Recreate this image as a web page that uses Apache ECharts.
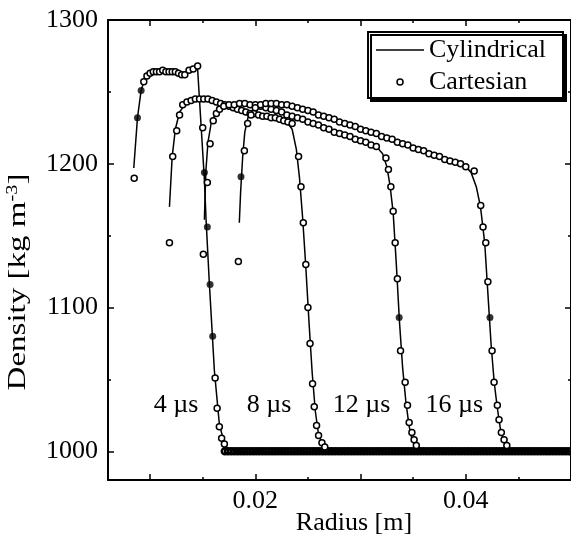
<!DOCTYPE html>
<html>
<head>
<meta charset="utf-8">
<script src="https://cdn.jsdelivr.net/npm/echarts@6/dist/echarts.min.js"></script>
<style>html,body{margin:0;padding:0;background:#fff}#c{width:571px;height:540px}</style>
</head>
<body>
<div id="c"></div>
<script>
// ---------- data ----------
const xMajorTicks = [0.01, 0.02, 0.03, 0.04, 0.05];
const xMinorTicks = [0.015, 0.025, 0.035, 0.045];
const xLabelTicks = [0.02, 0.04];
const yMajorTicks = [1000, 1100, 1200, 1300];
const yMinorTicks = [1050, 1150, 1250];
const yLabelTicks = [1000, 1100, 1200, 1300];

const timeLabels = ['4 µs', '8 µs', '12 µs', '16 µs'];
const timeLabelR = [0.01246, 0.0213, 0.0301, 0.0389];
const timeLabelD = 1032;

// Cylindrical (lines)
const cyl4R = [0.00845,0.0088,0.00915,0.0094,0.00963,0.0101,0.0110,0.0120,0.0128,0.0133,0.0137,0.0141,0.0145,0.0147,0.01516,0.01532,0.01563,0.01611,0.01658,0.01696,0.01734,0.0180,0.0500];
const cyl4D = [1197,1232,1251,1257,1260,1264,1264,1264,1263,1262,1264,1267,1268,1244,1189,1161,1117,1056,1019,1008,1002,1000,1000];
const cyl8R = [0.01184,0.0121,0.0124,0.0128,0.0134,0.0142,0.0152,0.0165,0.0180,0.0195,0.0210,0.0222,0.0230,0.0235,0.0239,0.0242,0.0245,0.0248,0.0251,0.0254,0.0257,0.0260,0.0264,0.0270,0.0500];
const cyl8D = [1170,1205,1224,1236,1242,1245,1245,1242,1238,1235,1233,1231,1229,1224,1210,1190,1162,1128,1090,1055,1028,1012,1004,1000,1000];
const cyl12R = [0.01516,0.0153,0.0155,0.0158,0.0162,0.0168,0.0175,0.0190,0.0200,0.0220,0.0240,0.0260,0.0280,0.0300,0.0315,0.0321,0.0325,0.0328,0.0331,0.0334,0.0337,0.0340,0.0343,0.0346,0.0349,0.0353,0.0360,0.0500];
const cyl12D = [1161,1195,1215,1228,1235,1239,1241,1242,1241,1237,1232,1227,1221,1216,1212,1207,1198,1185,1166,1130,1090,1058,1035,1018,1008,1003,1000,1000];
const cyl16R = [0.01848,0.0186,0.0188,0.0190,0.0193,0.0198,0.0205,0.0215,0.0230,0.0250,0.0270,0.0290,0.0310,0.0330,0.0350,0.0370,0.0390,0.0400,0.0405,0.0410,0.0414,0.0418,0.0421,0.0424,0.0427,0.0430,0.0433,0.0436,0.0440,0.0447,0.0500];
const cyl16D = [1159,1180,1205,1222,1232,1238,1241,1242,1241,1237,1232,1227,1222,1217,1211,1206,1201,1198,1194,1184,1170,1145,1110,1075,1048,1030,1015,1007,1002,1000,1000];

// Cartesian (open circles)
const cart4R = [0.00849,0.0094,0.0097,0.0100,0.0103,0.0106,0.0109,0.0112,0.0115,0.0118,0.0121,0.0124,0.0127,0.0130,0.0133,0.0137,0.0141,0.01452,0.01500,0.01544,0.01618,0.01637,0.01658,0.0168,0.01706];
const cart4D = [1190,1257,1261,1263,1264,1264,1264,1265,1264,1264,1264,1264,1263,1262,1262,1265,1266,1268,1225,1187,1051,1030,1017,1009,1005];
const cart8R = [0.01184,0.01215,0.01253,0.0128,0.0131,0.0135,0.0139,0.0143,0.0147,0.0151,0.0155,0.0159,0.0163,0.0167,0.0171,0.0175,0.0179,0.0183,0.0187,0.0191,0.0195,0.0199,0.0203,0.0207,0.0211,0.0215,0.0219,0.0223,0.0227,0.0231,0.0235,0.02411,0.02434,0.02456,0.0248,0.0250,0.0252,0.02544,0.0256,0.02582,0.02601,0.02633,0.0266];
const cart8D = [1145,1205,1223,1234,1241,1243,1244,1245,1245,1245,1245,1244,1243,1242,1241,1240,1239,1238,1237,1236,1235,1235,1234,1233,1233,1232,1232,1231,1230,1229,1228,1205,1184,1159,1130,1100,1075,1047,1031,1018,1011,1006,1003];
const cart12R = [0.01506,0.0157,0.0160,0.0163,0.0166,0.0170,0.0175,0.0180,0.0185,0.0190,0.0195,0.0200,0.0205,0.0210,0.0215,0.0220,0.0225,0.0230,0.0235,0.0240,0.0245,0.0250,0.0255,0.0260,0.0265,0.0270,0.0275,0.0280,0.0285,0.0290,0.0295,0.0300,0.0305,0.0310,0.0315,0.03241,0.03265,0.03288,0.0331,0.03329,0.0335,0.0338,0.03424,0.03446,0.03462,0.03488,0.03509,0.0353];
const cart12D = [1137,1214,1230,1235,1238,1240,1241,1241,1242,1242,1241,1241,1240,1239,1238,1237,1236,1234,1233,1232,1231,1229,1228,1227,1225,1224,1222,1221,1220,1219,1217,1216,1215,1213,1212,1204,1196,1184,1167,1145,1120,1070,1048,1032,1020,1013,1008,1004];
const cart16R = [0.01839,0.01896,0.01927,0.01959,0.0200,0.0205,0.0210,0.0215,0.0220,0.0225,0.0230,0.0235,0.0240,0.0245,0.0250,0.0255,0.0260,0.0265,0.0270,0.0275,0.0280,0.0285,0.0290,0.0295,0.0300,0.0305,0.0310,0.0315,0.0320,0.0325,0.0330,0.0335,0.0340,0.0345,0.0350,0.0355,0.0360,0.0365,0.0370,0.0375,0.0380,0.0385,0.0390,0.0395,0.0400,0.0408,0.04142,0.04164,0.0419,0.0421,0.0425,0.04269,0.0430,0.04316,0.04338,0.04364,0.0439];
const cart16D = [1132,1209,1228,1234,1239,1241,1242,1242,1242,1241,1241,1240,1239,1238,1237,1236,1234,1233,1232,1231,1229,1228,1227,1226,1224,1223,1222,1221,1219,1218,1217,1215,1214,1213,1211,1210,1209,1207,1206,1205,1203,1202,1201,1200,1198,1195,1171,1156,1145,1118,1070,1048,1032,1022,1013,1008,1004];
// Cartesian samples in the undisturbed region (ambient density)
const flatR = [0.0171,0.0174,0.0177,0.0180,0.0183,0.0186,0.0189,0.0192,0.0195,0.0198,
0.0201,0.0204,0.0207,0.0210,0.0213,0.0216,0.0219,0.0222,0.0225,0.0228,
0.0231,0.0234,0.0237,0.0240,0.0243,0.0246,0.0249,0.0252,0.0255,0.0258,
0.0261,0.0264,0.0267,0.0270,0.0273,0.0276,0.0279,0.0282,0.0285,0.0288,
0.0291,0.0294,0.0297,0.0300,0.0303,0.0306,0.0309,0.0312,0.0315,0.0318,
0.0321,0.0324,0.0327,0.0330,0.0333,0.0336,0.0339,0.0342,0.0345,0.0348,
0.0351,0.0354,0.0357,0.0360,0.0363,0.0366,0.0369,0.0372,0.0375,0.0378,
0.0381,0.0384,0.0387,0.0390,0.0393,0.0396,0.0399,0.0402,0.0405,0.0408,
0.0411,0.0414,0.0417,0.0420,0.0423,0.0426,0.0429,0.0432,0.0435,0.0438,
0.0441,0.0444,0.0447,0.0450,0.0453,0.0456,0.0459,0.0462,0.0465,0.0468,
0.0471,0.0474,0.0477,0.0480,0.0483,0.0486,0.0489,0.0492,0.0495,0.0498];
const flatD = 1000;
// Cartesian points that render as filled dots
const filledR = [0.0088,0.00915,0.01516,0.01544,0.0157,0.01595,0.01864,0.03367,0.0423];
const filledD = [1232,1251,1194,1156,1116,1080,1191,1093,1093];

// ---------- chart ----------
const FONT = "'Liberation Serif','Times New Roman',serif";
const zip = (a, b) => a.map((v, i) => [v, Array.isArray(b) ? b[i] : b]);

const chart = echarts.init(document.getElementById('c'), null, {renderer: 'canvas'});

function lineSeries(r, d) {
  return {name: 'Cylindrical', type: 'line', data: zip(r, d), symbol: 'none', showSymbol: false,
    lineStyle: {color: '#000', width: 1.5}, itemStyle: {color: '#000'}, z: 2, animation: false, silent: true};
}
function circSeries(r, d, fill, size, bw) {
  return {name: 'Cartesian', type: 'scatter', data: zip(r, d), symbol: 'circle', symbolSize: size || 6,
    itemStyle: {color: fill || '#fff', borderColor: '#000', borderWidth: bw || 1.5, opacity: 1}, z: 3, animation: false, silent: true};
}

const axisBase = {type: 'value', min: 0.006, max: 0.05, splitLine: {show: false}};
const yBase = {type: 'value', min: 980, max: 1300, splitLine: {show: false}};

const option = {
  animation: false,
  grid: {left: 108, right: 0, top: 20, bottom: 60, containLabel: false, outerBoundsMode: 'none'},
  graphic: {
    elements: [
      {
        type: 'text', x: 18, y: 282, rotation: Math.PI / 2, scaleX: 1.27, scaleY: 1, silent: true,
        style: {text: 'Density [kg m{sup|-3}]', fontFamily: FONT, fontSize: 26, fill: '#000',
          align: 'center', verticalAlign: 'middle',
          rich: {sup: {fontFamily: FONT, fontSize: 16, fill: '#000', verticalAlign: 'top', lineHeight: 26}}}
      }
    ]
  },
  legend: {
    z: 10,
    data: [
      {name: 'Cylindrical', icon: 'path://M0,0 L48,0 L48,1.6 L0,1.6 Z', itemStyle: {color: '#000', borderWidth: 0}},
      {name: 'Cartesian', icon: 'circle', itemStyle: {color: '#fff', borderColor: '#000', borderWidth: 1.5}}
    ],
    orient: 'vertical', right: 8, top: 32,
    itemWidth: 48, itemHeight: 6, itemGap: 6,
    padding: [5, 17, 3, 8],
    backgroundColor: '#fff', borderColor: '#000', borderWidth: 2,
    shadowColor: '#000', shadowBlur: 0, shadowOffsetX: 3, shadowOffsetY: 3,
    textStyle: {fontFamily: FONT, fontSize: 26, color: '#000'},
    selectedMode: false
  },
  xAxis: [
    Object.assign({}, axisBase, {position: 'bottom',
      axisLine: {show: true, lineStyle: {color: '#000', width: 2}},
      axisTick: {show: true, inside: true, length: 6, customValues: xMajorTicks, lineStyle: {color: '#000', width: 1.5}},
      axisLabel: {show: true, customValues: xLabelTicks, formatter: v => v.toFixed(2), fontFamily: FONT, fontSize: 26, color: '#000', margin: 8},
      name: 'Radius [m]', nameLocation: 'middle', nameGap: 30, nameMoveOverlap: false,
      nameTextStyle: {fontFamily: FONT, fontSize: 26, color: '#000', padding: [0, 0, 0, 29]}}),
    Object.assign({}, axisBase, {position: 'bottom',
      axisLine: {show: false},
      axisTick: {show: true, inside: true, length: 3, customValues: xMinorTicks, lineStyle: {color: '#000', width: 1.5}},
      axisLabel: {show: false}}),
    Object.assign({}, axisBase, {position: 'top',
      axisLine: {show: true, lineStyle: {color: '#000', width: 2}},
      axisTick: {show: true, inside: true, length: 6, customValues: xMajorTicks, lineStyle: {color: '#000', width: 1.5}},
      axisLabel: {show: false}}),
    Object.assign({}, axisBase, {position: 'top',
      axisLine: {show: false},
      axisTick: {show: true, inside: true, length: 3, customValues: xMinorTicks, lineStyle: {color: '#000', width: 1.5}},
      axisLabel: {show: false}})
  ],
  yAxis: [
    Object.assign({}, yBase, {position: 'left',
      axisLine: {show: true, lineStyle: {color: '#000', width: 2}},
      axisTick: {show: true, inside: true, length: 6, customValues: yMajorTicks, lineStyle: {color: '#000', width: 1.5}},
      axisLabel: {show: true, customValues: yLabelTicks, formatter: v => String(v), fontFamily: FONT, fontSize: 26, color: '#000', margin: 10}}),
    Object.assign({}, yBase, {position: 'left',
      axisLine: {show: false},
      axisTick: {show: true, inside: true, length: 3, customValues: yMinorTicks, lineStyle: {color: '#000', width: 1.5}},
      axisLabel: {show: false}}),
    Object.assign({}, yBase, {position: 'right',
      axisLine: {show: true, lineStyle: {color: '#000', width: 2}},
      axisTick: {show: true, inside: true, length: 6, customValues: yMajorTicks, lineStyle: {color: '#000', width: 1.5}},
      axisLabel: {show: false}}),
    Object.assign({}, yBase, {position: 'right',
      axisLine: {show: false},
      axisTick: {show: true, inside: true, length: 3, customValues: yMinorTicks, lineStyle: {color: '#000', width: 1.5}},
      axisLabel: {show: false}})
  ],
  series: [
    lineSeries(cyl4R, cyl4D),
    lineSeries(cyl8R, cyl8D),
    lineSeries(cyl12R, cyl12D),
    lineSeries(cyl16R, cyl16D),
    circSeries(flatR, flatD, 'rgba(255,255,255,0)', 6, 2.5),
    circSeries(cart4R, cart4D),
    circSeries(cart8R, cart8D),
    circSeries(cart12R, cart12D),
    circSeries(cart16R, cart16D),
    {name: 'Cartesian', type: 'scatter', data: zip(filledR, filledD), symbol: 'circle', symbolSize: 7,
      itemStyle: {color: '#000'}, z: 4, animation: false, silent: true},
    {name: 'times', type: 'scatter', data: zip(timeLabelR, timeLabelD).map((p, i) => ({value: p, name: timeLabels[i]})),
      symbolSize: 1, itemStyle: {color: 'rgba(0,0,0,0)'}, z: 5, silent: true, animation: false,
      label: {show: true, position: 'inside', formatter: p => p.name, fontFamily: FONT, fontSize: 26, color: '#000', opacity: 1, textBorderWidth: 0}}
  ]
};
chart.setOption(option);
</script>
</body>
</html>
